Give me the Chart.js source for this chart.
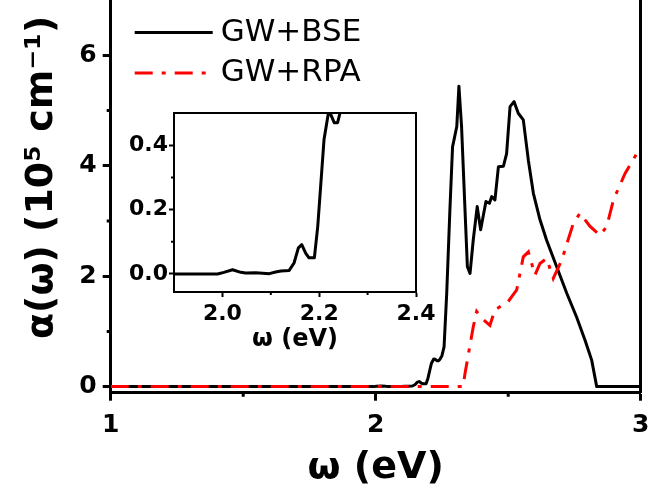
<!DOCTYPE html>
<html>
<head>
<meta charset="utf-8">
<script src="https://cdn.jsdelivr.net/npm/chart.js@4.4.1/dist/chart.umd.min.js"></script>
<style>
  html, body { margin: 0; padding: 0; background: #fff; }
  #wrap { position: relative; width: 648px; height: 491px; }
  #mainChart { position: absolute; left: 0; top: 0; }
  #insetChart { position: absolute; left: 112px; top: 100px; }
</style>
</head>
<body>
<div id="wrap">
  <canvas id="mainChart" width="648" height="491"></canvas>
  <canvas id="insetChart" width="335" height="260"></canvas>
</div>
<script>
// absorption spectra (alpha in 1e5 cm^-1, energy in eV)
const bseEnergy = [1.0, 1.99, 2.003, 2.021, 2.038, 2.048, 2.069, 2.097, 2.11, 2.121, 2.138, 2.148,
  2.157, 2.164, 2.172, 2.179, 2.19, 2.197, 2.206, 2.21, 2.219, 2.224, 2.231, 2.238, 2.243, 2.25,
  2.258, 2.268, 2.28, 2.29, 2.306, 2.314, 2.324, 2.337, 2.346, 2.356, 2.368, 2.383, 2.396, 2.416,
  2.429, 2.438, 2.45, 2.463, 2.482, 2.494, 2.507, 2.522, 2.538, 2.557, 2.576, 2.595, 2.62, 2.645,
  2.683, 2.721, 2.758, 2.79, 2.815, 2.834, 3.0];
const bseAlpha = [0, 0, 0.005, 0.013, 0.005, 0.003, 0.004, 0.001, 0.006, 0.009, 0.011, 0.034,
  0.081, 0.091, 0.065, 0.05, 0.05, 0.148, 0.335, 0.418, 0.5, 0.495, 0.47, 0.47, 0.5, 0.56,
  0.72, 1.69, 3.2, 4.34, 4.71, 5.44, 4.71, 3.2, 2.17, 2.05, 2.65, 3.26, 2.84, 3.35,
  3.32, 3.44, 3.38, 3.98, 3.99, 4.22, 5.07, 5.16, 4.95, 4.83, 4.10, 3.5, 3.02, 2.65,
  2.17, 1.69, 1.26, 0.84, 0.48, 0, 0];

const rpaEnergy = [1.0, 2.33, 2.337, 2.368, 2.381, 2.4, 2.431, 2.45, 2.5, 2.532, 2.557, 2.576,
  2.601, 2.62, 2.645, 2.67, 2.702, 2.746, 2.771, 2.809, 2.846, 2.872, 2.897, 2.941, 3.0];
const rpaAlpha = [0, 0, 0.24, 1.08, 1.36, 1.24, 1.11, 1.39, 1.54, 1.75, 2.35, 2.44,
  2.02, 2.23, 2.32, 1.96, 2.29, 2.96, 3.14, 2.9, 2.74, 2.9, 3.38, 3.86, 4.34];

const mainXTicks = [1, 2, 3];
const mainYTicks = [0, 2, 4, 6];
const mainXMinor = [1.5, 2.5];
const mainYMinor = [1, 3, 5];
const insetXTicks = [2.0, 2.2, 2.4];
const insetYTicks = [0.0, 0.2, 0.4];
const insetXMinor = [2.1, 2.3];
const insetYMinor = [0.1, 0.3];

const FONT = "'DejaVu Sans', 'Liberation Sans', Arial, sans-serif";

const toPoints = (xs, ys) => xs.map((x, i) => ({ x: x, y: ys[i] }));
const fixTicks = list => scale => { scale.ticks = list.map(v => ({ value: v })); };

// fixed axis size, and no extra room reserved for edge labels
const fitAxis = size => s => {
    if (s.isHorizontal()) s.height = size; else s.width = size;
    s.paddingLeft = s.paddingRight = s.paddingTop = s.paddingBottom = 0;
};

// short outward minor ticks, Chart.js has none of its own
const minorTicks = {
    id: 'minorTicks',
    afterDraw(chart, args, opts) {
        const { ctx, chartArea, scales } = chart;
        ctx.save();
        ctx.strokeStyle = '#000';
        ctx.lineWidth = opts.width;
        ctx.beginPath();
        opts.x.forEach(v => {
            const px = scales.x.getPixelForValue(v);
            ctx.moveTo(px, chartArea.bottom);
            ctx.lineTo(px, chartArea.bottom + opts.length);
        });
        opts.y.forEach(v => {
            const py = scales.y.getPixelForValue(v);
            ctx.moveTo(chartArea.left, py);
            ctx.lineTo(chartArea.left - opts.length, py);
        });
        ctx.stroke();
        ctx.restore();
    }
};

// legend inside the plot, line samples use the dataset styles
const lineLegend = {
    id: 'lineLegend',
    afterDatasetsDraw(chart, args, opts) {
        const { ctx, chartArea } = chart;
        ctx.save();
        ctx.font = opts.font;
        ctx.textBaseline = 'middle';
        chart.data.datasets.forEach((ds, i) => {
            const x = chartArea.left + opts.left;
            const y = chartArea.top + opts.top + i * opts.spacing;
            ctx.strokeStyle = ds.borderColor;
            ctx.lineWidth = ds.borderWidth;
            ctx.setLineDash(ds.borderDash || []);
            ctx.beginPath();
            ctx.moveTo(x, y);
            ctx.lineTo(x + opts.length, y);
            ctx.stroke();
            ctx.fillStyle = '#000';
            ctx.fillText(ds.label, x + opts.length + opts.gap, y);
        });
        ctx.restore();
    }
};

const axisGrid = (len, w) => ({ drawOnChartArea: false, drawTicks: true, tickLength: len, tickWidth: w, tickColor: '#000' });
const frameAxis = (pos, size, w) => ({
    type: 'linear', position: pos, display: true,
    afterFit: fitAxis(size),
    grid: { drawOnChartArea: false, drawTicks: false },
    ticks: { display: false },
    border: { display: true, color: '#000', width: w }
});

new Chart(document.getElementById('mainChart'), {
    type: 'line',
    data: {
        datasets: [
            {
                label: 'GW+BSE',
                data: toPoints(bseEnergy, bseAlpha),
                borderColor: '#000000',
                borderWidth: 3,
                borderJoinStyle: 'round',
                pointRadius: 0,
                tension: 0,
                order: 2
            },
            {
                label: 'GW+RPA',
                data: toPoints(rpaEnergy, rpaAlpha),
                borderColor: '#ff0000',
                borderWidth: 3,
                borderDash: [18, 9, 4, 9],
                pointRadius: 0,
                tension: 0,
                order: 1
            }
        ]
    },
    options: {
        responsive: false,
        animation: false,
        layout: { padding: 0 },
        plugins: {
            legend: { display: false },
            tooltip: { enabled: false },
            minorTicks: { x: mainXMinor, y: mainYMinor, length: 4, width: 3 },
            lineLegend: { left: 24, top: 32.5, spacing: 40.5, length: 78, gap: 8, font: '31px ' + FONT }
        },
        scales: {
            x: {
                type: 'linear', position: 'bottom', min: 1, max: 3,
                afterBuildTicks: fixTicks(mainXTicks),
                afterFit: fitAxis(98.3),
                grid: axisGrid(8, 3),
                border: { display: true, color: '#000', width: 3 },
                ticks: { color: '#000', padding: 10, maxRotation: 0, font: { family: FONT, size: 25, weight: 'bold' } },
                title: { display: true, text: 'ω (eV)', color: '#000', padding: { top: 0, bottom: 0 },
                    font: { family: FONT, size: 38, weight: 'bold' } }
            },
            y: {
                type: 'linear', position: 'left', min: -0.11, max: 7,
                afterBuildTicks: fixTicks(mainYTicks),
                afterFit: fitAxis(110.7),
                grid: axisGrid(8, 3),
                border: { display: true, color: '#000', width: 3 },
                ticks: { color: '#000', padding: 6, font: { family: FONT, size: 25, weight: 'bold' } },
                title: { display: true, text: '\u2003α(ω) (10⁵ cm⁻¹)', color: '#000', padding: { top: 19, bottom: 0 },
                    font: { family: FONT, size: 38, weight: 'bold' } }
            },
            y2: frameAxis('right', 7.3, 3)
        }
    },
    plugins: [minorTicks, lineLegend]
});

new Chart(document.getElementById('insetChart'), {
    type: 'line',
    data: {
        datasets: [{
            label: 'GW+BSE',
            data: toPoints(bseEnergy, bseAlpha),
            borderColor: '#000000',
            borderWidth: 3,
            borderJoinStyle: 'round',
            pointRadius: 0,
            tension: 0
        }]
    },
    options: {
        responsive: false,
        animation: false,
        layout: { padding: { top: 13, left: 0, right: 0, bottom: 0 } },
        plugins: {
            legend: { display: false },
            tooltip: { enabled: false },
            minorTicks: { x: insetXMinor, y: insetYMinor, length: 3, width: 2 }
        },
        scales: {
            x: {
                type: 'linear', position: 'bottom', min: 1.9, max: 2.4,
                afterBuildTicks: fixTicks(insetXTicks),
                afterFit: fitAxis(68),
                grid: axisGrid(5, 2),
                border: { display: true, color: '#000', width: 2 },
                ticks: { color: '#000', padding: 4, maxRotation: 0, callback: v => v.toFixed(1),
                    font: { family: FONT, size: 22, weight: 'bold' } },
                title: { display: true, text: 'ω (eV)', color: '#000', padding: { top: 0, bottom: 6 },
                    font: { family: FONT, size: 24, weight: 'bold' } }
            },
            y: {
                type: 'linear', position: 'left', min: -0.056, max: 0.5,
                afterBuildTicks: fixTicks(insetYTicks),
                afterFit: fitAxis(62),
                grid: axisGrid(5, 2),
                border: { display: true, color: '#000', width: 2 },
                ticks: { color: '#000', padding: 1, callback: v => v.toFixed(1),
                    font: { family: FONT, size: 22, weight: 'bold' } }
            },
            y2: frameAxis('right', 31, 2),
            x2: frameAxis('top', 0, 2)
        }
    },
    plugins: [minorTicks]
});
</script>
</body>
</html>
